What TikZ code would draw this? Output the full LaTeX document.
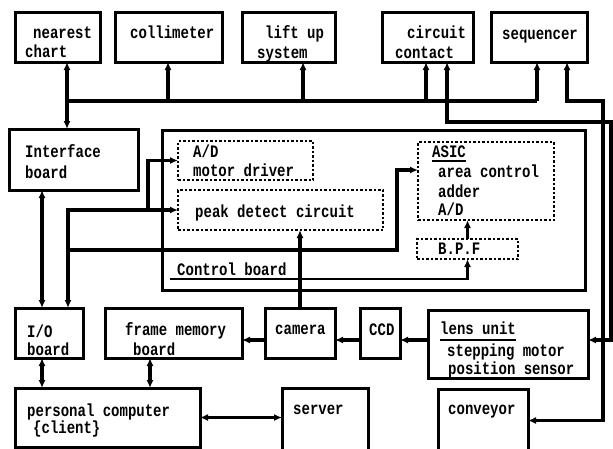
\documentclass[tikz,border=0pt]{standalone}
\usepackage{fontspec}
\usetikzlibrary{arrows.meta,calc}
\newfontfamily\dfont{Liberation Mono}[FakeStretch=0.8]
\tikzset{
  box/.style={draw, line width=3pt, inner sep=0pt, outer sep=0pt},
  dbox/.style={draw, line width=1.7pt, dash pattern=on 2.5pt off 2pt, inner sep=0pt, outer sep=0pt},
  conn/.style={draw, line width=3.2pt},
  arr/.style={conn, -{Latex[length=8pt,width=7pt]}},
  dbl/.style={conn, {Latex[length=8pt,width=7pt]}-{Latex[length=8pt,width=7pt]}},
  txt/.style={font=\dfont\bfseries\fontsize{17.5}{18}\selectfont, anchor=base west, inner sep=0pt},
  uline/.style={line width=1.8pt}
}
\newcommand\bx[6][box]{\node[#1, minimum width={(#5-#3)*1pt}, minimum height={(#6-#4)*1pt}] (#2) at ({(#3+#5)/2},{(#4+#6)/2}) {};}
\begin{document}
\begin{tikzpicture}[x=1pt,y=-1pt]
\useasboundingbox (0,0) rectangle (613,448);
\clip (0,0) rectangle (613,448);
% top boxes
\bx{nearest}{15}{12}{100}{62}
\bx{collim}{115}{12}{222}{62}
\bx{lift}{242}{12}{335}{62}
\bx{circ}{382}{12}{473}{62}
\bx{seq}{491}{12}{587}{62}
% middle
\bx{iface}{9}{129}{138}{190}
\bx{ctrl}{162}{130}{585}{290}
\bx[dbox]{admd}{178}{141}{313}{180}
\bx[dbox]{peak}{178}{190}{383}{230}
\bx[dbox]{asic}{418}{142}{554}{220}
\bx[dbox]{bpf}{417}{239}{518}{259}
% lower
\bx{io}{15}{308}{83}{358}
\bx{frame}{105}{308}{242}{358}
\bx{camera}{265}{308}{335}{358}
\bx{ccd}{360}{308}{400}{358}
\bx{lens}{428}{310}{588}{378}
\bx{pc}{15}{388}{200}{447}
\bx{server}{282}{388}{368}{452}
\bx{conv}{438}{389}{528}{452}
% texts
\node[txt] (t1) at (33,38) {nearest};
\node[txt] (t2) at (25,57) {chart};
\node[txt] (t3) at (130,38) {collimeter};
\node[txt] (t4) at (265,38) {lift up};
\node[txt] (t5) at (257,58) {system};
\node[txt] (t6) at (407,38) {circuit};
\node[txt] (t7) at (395,58) {contact};
\node[txt] (t8) at (502,39) {sequencer};
\node[txt] (t9) at (25,157) {Interface};
\node[txt] (t10) at (25,178) {board};
\node[txt] (t11) at (193,157) {A/D};
\node[txt] (t12) at (193,176) {motor driver};
\node[txt] (t13) at (195,217) {peak detect circuit};
\node[txt] (t14) at (432,157) {ASIC};
\node[txt] (t15) at (438,177) {area control};
\node[txt] (t16) at (438,197) {adder};
\node[txt] (t17) at (438,215) {A/D};
\node[txt] (t18) at (438,254) {B.P.F};
\node[txt] (t19) at (177,275) {Control board};
\node[txt] (t20) at (27,337) {I/O};
\node[txt] (t21) at (27,355) {board};
\node[txt] (t22) at (125,335) {frame memory};
\node[txt] (t23) at (133,355) {board};
\node[txt] (t24) at (275,334) {camera};
\node[txt] (t25) at (369,335) {CCD};
\node[txt] (t26) at (440,334) {lens unit};
\node[txt] (t27) at (447,356) {stepping motor};
\node[txt] (t28) at (448,374) {position sensor};
\node[txt] (t29) at (27,416) {personal computer};
\node[txt] (t30) at (33,433) {\{client\}};
\node[txt] (t31) at (293,414) {server};
\node[txt] (t32) at (448,414) {conveyor};
% underlines
\draw[uline] (t14.base west) ++(0,4) coordinate (ua) -- (ua -| t14.east);
\draw[uline] (t26.base west) ++(0,6) coordinate (ub) -- (ub -| t26.east);
% coordinates
\coordinate (b0) at (67,101);
\coordinate (bc) at (168,101);
\coordinate (bl) at (303,101);
\coordinate (bcc) at (426,101);
\coordinate (bs) at (537,101);
\coordinate (sA) at (567,101);
\coordinate (rA) at (603,101);
\coordinate (cB) at (447,122);
\coordinate (rB) at (611,122);
\coordinate (x42) at (42,250);
\coordinate (j1) at (68,210);
\coordinate (j2) at (148,210);
\coordinate (j3) at (68,250);
\coordinate (j4) at (397,250);
\coordinate (u0) at (170,279);
\coordinate (hy) at (0,340);
\coordinate (x150) at (150,0);
% bus
\draw[conn] (b0) -- (bs);
\draw[dbl] (b0 |- nearest.south) -- (b0 |- iface.north);
\draw[arr] (bc) -- (bc |- collim.south);
\draw[arr] (bl) -- (bl |- lift.south);
\draw[arr] (bcc) -- (bcc |- circ.south);
\draw[arr] (bs) -- (bs |- seq.south);
% right loops
\draw[dbl] (sA |- seq.south) -- (sA) -- (rA) |- (conv.east);
\draw[dbl] (cB |- circ.south) -- (cB) -- (rB) |- (lens.east |- hy);
% left side
\draw[dbl] (x42 |- iface.south) -- (x42 |- io.north);
\draw[dbl] (j1 |- io.north) -- (j1) -- (peak.west);
\draw[arr] (j2) |- (admd.west);
\draw[arr] (j3) -- (j4) |- ([yshift=11pt]asic.west);
% control board
\draw[arr] (camera.north) -- (camera.north |- peak.south);
\draw[arr, line width=2.2pt] (u0) -| (bpf.south);
\draw[arr] (bpf.north) -- (bpf.north |- asic.south);
% lower chain
\draw[arr] (lens.west |- hy) -- (ccd.east |- hy);
\draw[arr] (ccd.west |- hy) -- (camera.east |- hy);
\draw[arr] (camera.west |- hy) -- (frame.east |- hy);
\draw[dbl] (x42 |- io.south) -- (x42 |- pc.north);
\draw[dbl] (frame.south -| x150) -- (pc.north -| x150);
\draw[dbl] (pc.east) -- (pc.east -| server.west);
\end{tikzpicture}
\end{document}
